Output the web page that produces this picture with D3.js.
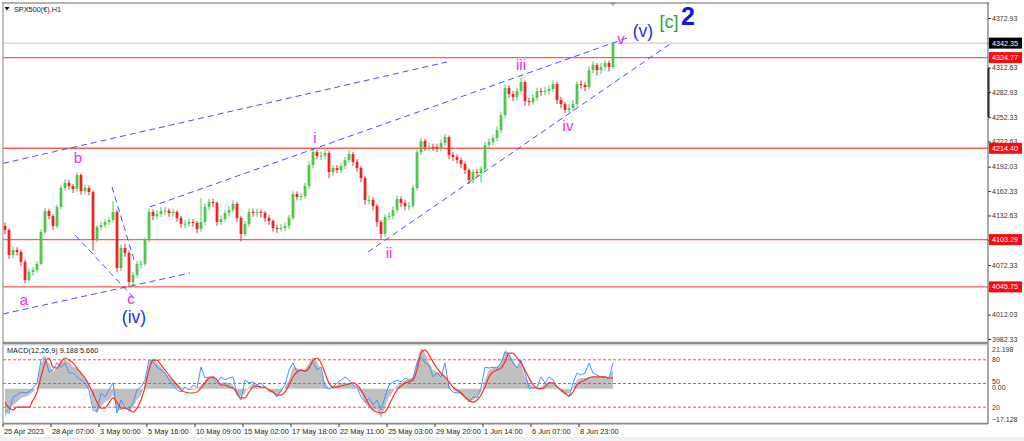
<!DOCTYPE html>
<html><head><meta charset="utf-8">
<script src="https://cdn.jsdelivr.net/npm/d3@7"></script>
<style>
body{margin:0;background:#fff;}
svg{display:block;font-family:"Liberation Sans",Arial,sans-serif;}
</style>
</head><body>
<svg id="chart" width="1024" height="441"></svg>
<script>
// ---------- DATA ----------
const firstOpen = 4120;
const closes = [4115.0,4084.5,4090.6,4088.2,4076.0,4054.1,4063.9,4066.3,4073.6,4112.5,
4138.1,4132.0,4119.8,4143.0,4166.1,4172.2,4168.5,4164.9,4181.9,4162.4,
4166.1,4161.2,4102.8,4118.6,4121.0,4124.7,4127.1,4136.9,4068.7,4093.1,
4087.0,4051.7,4060.2,4073.6,4073.9,4102.8,4136.9,4132.0,4134.4,4138.1,
4138.4,4135.6,4136.9,4129.6,4122.3,4122.6,4124.7,4123.5,4116.2,4124.7,
4143.0,4149.0,4147.8,4124.7,4128.3,4135.6,4139.3,4146.6,4129.6,4110.1,
4122.3,4136.9,4135.6,4136.9,4135.6,4129.6,4125.9,4117.4,4116.2,4117.4,
4119.8,4129.6,4158.7,4155.1,4156.3,4168.5,4194.0,4209.8,4205.0,4205.3,
4208.6,4185.5,4190.4,4187.9,4192.8,4200.1,4207.4,4197.7,4190.4,4178.2,
4151.4,4151.7,4144.1,4124.7,4110.1,4130.8,4132.0,4139.3,4152.7,4147.8,
4144.1,4144.4,4166.1,4209.8,4223.3,4215.9,4216.2,4215.9,4214.7,4220.8,
4228.1,4206.2,4203.8,4200.1,4195.3,4187.9,4175.8,4185.5,4184.3,4189.2,
4218.4,4222.0,4226.9,4236.6,4254.9,4287.7,4280.4,4276.8,4284.1,4295.0,
4271.9,4270.7,4275.6,4284.1,4282.9,4284.1,4286.5,4292.6,4273.1,4268.3,
4261.0,4263.4,4268.3,4292.6,4291.4,4288.9,4309.6,4315.7,4309.6,4313.3,
4318.1,4313.3,4341.3];
const highs = [4124,4117,4095,4094,4091,4079,4067,4070,4077,4116,
4142,4141,4134,4146,4170,4177,4176,4171,4185,4184,
4170,4169,4163,4121,4125,4128,4131,4150,4139,4097,
4098,4090,4064,4077,4078,4106,4141,4140,4139,4143,
4143,4141,4141,4139,4132,4127,4129,4128,4126,4154,
4147,4153,4153,4150,4133,4139,4144,4151,4149,4132,
4126,4141,4141,4141,4140,4138,4133,4128,4121,4122,
4124,4133,4162,4162,4160,4172,4198,4214,4213,4210,
4213,4211,4194,4194,4197,4204,4212,4210,4201,4193,
4181,4157,4155,4147,4127,4134,4137,4144,4157,4156,
4151,4149,4170,4213,4227,4226,4221,4220,4220,4225,
4232,4230,4210,4207,4203,4198,4190,4189,4189,4193,
4222,4226,4231,4241,4259,4292,4291,4284,4288,4300,
4297,4276,4280,4288,4288,4289,4291,4297,4295,4277,
4271,4268,4273,4296,4297,4295,4314,4320,4318,4318,
4322,4321,4343];
const lows = [4110,4080,4081,4084,4071,4050,4052,4060,4063,4072,
4110,4128,4115,4117,4140,4163,4164,4160,4162,4158,
4159,4157,4090,4100,4115,4118,4121,4124,4064,4065,
4082,4046,4048,4057,4068,4071,4100,4127,4128,4131,
4133,4131,4131,4125,4118,4117,4119,4119,4111,4113,
4121,4139,4143,4120,4121,4125,4132,4136,4125,4101,
4107,4119,4131,4131,4130,4125,4121,4113,4111,4113,
4114,4116,4127,4151,4151,4153,4165,4190,4201,4200,
4201,4178,4181,4184,4184,4189,4197,4193,4186,4173,
4146,4146,4139,4119,4104,4107,4127,4128,4136,4143,
4139,4139,4141,4163,4206,4211,4211,4211,4210,4211,
4217,4201,4199,4196,4190,4183,4171,4172,4179,4173,
4186,4214,4218,4223,4233,4251,4276,4272,4273,4281,
4266,4266,4267,4272,4278,4279,4280,4283,4268,4263,
4257,4258,4260,4265,4287,4284,4286,4306,4303,4305,
4309,4308,4311];
const macdMain = [-13.7,-10.3,-7.9,-6.5,-4.5,-4.0,-3.1,-1.6,0.8,12.5,
14.9,12.5,8.1,10.5,13.0,13.9,13.0,10.5,10.0,7.6,
5.2,2.8,-8.9,-11.8,-8.9,-6.5,-5.5,-3.1,-10.3,-10.3,
-7.9,-11.3,-8.9,-5.5,-3.1,2.8,13.0,14.9,12.5,10.5,
8.1,5.7,4.2,2.8,0.8,0.3,-0.6,-0.6,-0.1,1.8,
4.2,5.7,5.7,2.8,2.8,3.3,2.8,1.8,-2.1,-4.0,
-2.1,0.8,2.8,1.8,0.8,0.3,-1.6,-2.1,-3.1,-2.1,
0.8,4.2,10.5,10.0,9.1,9.1,12.5,15.4,13.0,9.1,
2.8,0.3,0.8,1.8,2.8,2.8,2.8,1.8,0.3,-2.1,
-6.9,-9.4,-10.3,-10.3,-14.2,-8.9,-4.0,-1.6,1.8,2.8,
4.2,4.2,5.7,13.9,19.8,17.3,12.5,9.1,8.1,7.6,
5.7,1.8,-0.6,-1.6,-3.1,-4.5,-6.5,-5.5,-4.0,-1.6,
4.2,9.1,10.0,10.5,12.5,18.8,17.3,13.9,10.5,12.5,
5.7,2.8,0.8,0.3,0.8,2.8,3.3,2.8,0.3,-1.6,
-3.1,-2.1,0.8,4.2,5.2,5.2,5.7,5.7,5.7,5.7,
5.7,5.7,9.2];
const macdSignal = [-6.5,-9.4,-10.3,-8.9,-8.9,-8.9,-8.9,-5.5,-1.6,5.7,
12.5,14.9,10.5,10.0,13.0,14.9,13.9,12.5,10.0,7.6,
5.2,1.8,-2.1,-6.5,-9.4,-9.4,-6.9,-4.5,-6.5,-9.4,
-9.4,-10.3,-11.3,-9.4,-5.5,0.8,9.1,13.9,13.9,11.5,
9.1,6.6,4.2,1.8,-0.6,-1.6,-2.1,-2.1,-1.6,0.3,
2.8,5.2,5.7,4.2,1.8,1.8,0.8,0.3,-2.1,-4.5,
-4.5,-1.6,0.8,1.3,0.8,0.8,-0.6,-1.6,-3.1,-3.1,
-1.6,1.8,5.7,8.1,9.1,8.6,10.0,13.9,14.9,12.5,
7.6,2.8,0.8,0.8,1.3,1.8,2.3,2.8,1.8,-0.6,
-4.0,-7.9,-10.3,-11.3,-11.8,-11.3,-7.9,-4.0,-0.6,1.3,
2.8,3.3,4.2,9.1,17.3,18.8,16.4,13.0,10.0,7.6,
5.7,3.3,0.8,-0.6,-2.1,-4.0,-5.5,-6.5,-5.5,-3.1,
0.8,5.7,8.1,9.1,10.0,13.0,17.3,17.3,14.9,12.5,
9.1,5.2,1.8,0.3,-0.1,0.8,2.8,2.8,0.8,-0.6,
-2.1,-3.5,-1.6,1.8,3.3,4.2,5.2,5.7,5.7,5.7,
5.7,5.2,5.2];
const oscLine = [-10.3,-11.8,-4.0,-3.1,-1.6,-2.1,-1.6,0.3,2.8,13.9,
15.4,8.1,9.1,12.5,10.5,12.5,7.6,7.6,5.7,4.2,
2.8,-0.6,-10.3,-11.3,-2.1,-4.0,-0.6,2.8,-11.8,-5.5,
-8.9,-10.3,-6.9,-0.6,0.8,4.2,13.9,13.0,10.5,9.1,
7.6,4.2,1.8,-0.6,-1.6,0.8,-0.6,1.8,0.3,10.5,
5.2,5.7,5.2,2.8,5.7,4.2,5.2,5.7,-3.1,-5.5,
4.2,2.8,3.3,1.8,2.8,0.8,-0.6,-1.6,-4.0,-0.6,
1.8,9.1,12.5,8.1,9.1,8.1,10.5,13.0,9.1,10.5,
0.8,-0.1,0.8,2.8,4.2,5.7,4.2,1.8,0.8,-4.0,
-6.5,-4.5,-7.9,-5.5,-10.3,-4.0,1.8,3.3,4.2,3.3,
5.2,4.2,5.2,12.5,15.4,12.5,11.5,5.7,7.6,5.7,
12.5,0.3,-1.6,-2.1,-1.6,-4.0,-6.5,-4.0,-4.5,0.3,
10.5,10.0,10.5,10.0,12.5,17.8,16.4,12.5,10.0,13.9,
7.6,0.3,0.3,0.8,5.7,2.8,5.7,4.2,0.8,-0.6,
-2.1,-4.0,2.8,7.6,6.6,7.6,12.5,7.6,6.6,5.7,
5.7,5.2,12.5];

const xTickIndex = [-0.5,11.5,23.5,35.5,47.5,59.5,71.5,83.5,95.5,107.5,119.5,131.5,143.5];
const xTickLabels = ["25 Apr 2023","28 Apr 07:00","3 May 00:00","5 May 16:00","10 May 09:00",
  "15 May 02:00","17 May 18:00","22 May 11:00","25 May 03:00","29 May 20:00",
  "1 Jun 14:00","6 Jun 07:00","8 Jun 23:00"];
const priceTicks = [4372.93,4342.63,4312.63,4282.93,4252.33,4222.63,4192.03,4162.33,4132.63,4102.63,4072.33,4042.73,4012.03,3982.33];
const levelPrices = [4324.77,4214.40,4103.29,4045.75];
const bidPrice = 4342.35;
const macdAxisValues = [21.198, 0.00, -17.128];
const oscLevels = [80, 50, 20];
const macdTitle = "MACD(12,26,9) 9.188 5.660";
const symbolTitle = "SPX500(€),H1";

const trendLines = [
  [[-0.5,4196.0],[110.5,4319.4]],
  [[-0.5,4012.8],[46.25,4062.6]],
  [[36.25,4143.0],[155.5,4348.6]],
  [[90.75,4088.2],[166.25,4341.3]],
  [[26.75,4167.3],[32.5,4074.8]],
  [[17.5,4108.9],[32.0,4033.4]]
];
const waveText  = ["a","b","c","(iv)","i","ii","iii","iv","v","(v)","[c]","2"];
const waveIdx   = [4.75,18.25,31.5,32.25,77.5,96,129,140.75,154,159.5,166,170.75];
const wavePrice = [4023.7,4196.5,4024.9,4001.8,4220.8,4080.9,4309.7,4235.4,4341.3,4349.8,4360.8,4364.4];
const waveKind  = ["m","m","m","blue","m","m","m","m","m","blue","green","big"];

// ---------- SCALES ----------
const svg = d3.select("#chart");
const x = d3.scaleLinear().domain([0, 152]).range([5, 613]);
const y = d3.scaleLinear().domain([3982.33, 4372.93]).range([339, 18]);
const ym = d3.scaleLinear().domain([-17.128, 21.198]).range([424, 345]);
const yo = d3.scaleLinear().domain([0, 100]).range([423, 344]);

const PL = 3, PR = 988;

// background
svg.append("rect").attr("x",0).attr("y",0).attr("width",1024).attr("height",441).attr("fill","#fff");
svg.append("rect").attr("x",0).attr("y",437).attr("width",1024).attr("height",4).attr("fill","#f0f0f0");

// ---------- MAIN PANEL ----------
const main = svg.append("g");
main.append("line").attr("x1",PL).attr("x2",PR).attr("y1",y(bidPrice)).attr("y2",y(bidPrice))
  .attr("stroke","#cfcfcf").attr("stroke-width",1.2);
main.selectAll(".lvl").data(levelPrices).join("line")
  .attr("x1",PL).attr("x2",PR).attr("y1",d=>y(d)).attr("y2",d=>y(d))
  .attr("stroke","#ff5c5c").attr("stroke-width",1.4);

// candles
const candles = closes.map((c,i)=>({i, o: i===0?firstOpen:closes[i-1], c, h: highs[i], l: lows[i]}));
const cg = main.append("g");
cg.selectAll("line.w").data(candles).join("line")
  .attr("x1",d=>x(d.i)).attr("x2",d=>x(d.i))
  .attr("y1",d=>y(d.h)).attr("y2",d=>y(d.l))
  .attr("stroke",d=>d.c>=d.o?"#52c852":"#ec2b2b").attr("stroke-width",1);
cg.selectAll("rect.b").data(candles).join("rect")
  .attr("x",d=>x(d.i)-1.4).attr("width",2.8)
  .attr("y",d=>y(Math.max(d.o,d.c)))
  .attr("height",d=>Math.max(1,Math.abs(y(d.o)-y(d.c))))
  .attr("fill",d=>d.c>=d.o?"#4cc94c":"#ee2424");

// trend lines
main.selectAll(".tl").data(trendLines).join("line")
  .attr("x1",d=>x(d[0][0])).attr("y1",d=>y(d[0][1]))
  .attr("x2",d=>x(d[1][0])).attr("y2",d=>y(d[1][1]))
  .attr("stroke","#4a4aff").attr("stroke-width",1).attr("stroke-dasharray","6,4");

// wave labels
const kindStyle = {
  m:{fill:"#f028f0",size:15,weight:"normal"},
  blue:{fill:"#2a2aff",size:17.5,weight:"normal"},
  green:{fill:"#31a031",size:18,weight:"normal"},
  big:{fill:"#1414e6",size:25,weight:"bold"}
};
main.selectAll(".wl").data(waveText).join("text")
  .attr("x",(d,i)=>x(waveIdx[i])).attr("y",(d,i)=>y(wavePrice[i]))
  .attr("text-anchor","middle")
  .attr("fill",(d,i)=>kindStyle[waveKind[i]].fill)
  .attr("font-size",(d,i)=>kindStyle[waveKind[i]].size)
  .attr("font-weight",(d,i)=>kindStyle[waveKind[i]].weight)
  .attr("font-family","'Liberation Sans',Arial,sans-serif")
  .text(d=>d);

// title
svg.append("path").attr("d","M4.5,7 L9.5,7 L7,10.5 Z").attr("fill","#111");
svg.append("text").attr("x",14).attr("y",12).attr("font-size",7.3).attr("fill","#222").text(symbolTitle);
// shift marker
svg.append("path").attr("d",`M${x(152)-3},2 L${x(152)+3},2 L${x(152)},6 Z`).attr("fill","#9a9a9a");

// price axis
const ax = d3.axisRight(y).tickValues(priceTicks).tickFormat(d3.format(".2f")).tickSize(3).tickPadding(1);
const axg = svg.append("g").attr("transform",`translate(${PR},0)`).call(ax);
axg.select(".domain").remove();
axg.selectAll("line").attr("stroke","#333");
axg.selectAll("text").attr("font-size",7).attr("fill","#333").attr("font-family","'Liberation Sans',Arial,sans-serif");

// scroll marker on axis
svg.append("rect").attr("x",PR-0.5).attr("y",68).attr("width",2).attr("height",49).attr("fill","#111");

// price boxes
function priceBox(p, bg){
  const g = svg.append("g");
  g.append("rect").attr("x",PR+1).attr("y",y(p)-5.5).attr("width",33).attr("height",11).attr("fill",bg);
  g.append("text").attr("x",PR+4).attr("y",y(p)+2.6).attr("font-size",7.2).attr("fill","#fff")
    .text(d3.format(".2f")(p));
}
priceBox(bidPrice,"#000");
levelPrices.forEach(p=>priceBox(p,"#ff0a0a"));

// ---------- MACD PANEL ----------
const mg = svg.append("g");
mg.append("path").datum(macdMain)
  .attr("d", d3.area().x((d,i)=>x(i)).y0(ym(0)).y1(d=>ym(d)))
  .attr("fill","#c0c0c0");
mg.selectAll(".ol").data(oscLevels).join("line")
  .attr("x1",PL).attr("x2",PR).attr("y1",d=>yo(d)).attr("y2",d=>yo(d))
  .attr("stroke","#ff4a4a").attr("stroke-width",1).attr("stroke-dasharray","3,2");
mg.append("path").datum(oscLine)
  .attr("d", d3.line().x((d,i)=>x(i)).y(d=>ym(d)))
  .attr("fill","none").attr("stroke","#3c96ff").attr("stroke-width",1);
mg.append("path").datum(macdSignal)
  .attr("d", d3.line().x((d,i)=>x(i)).y(d=>ym(d)).curve(d3.curveMonotoneX))
  .attr("fill","none").attr("stroke","#ff2a2a").attr("stroke-width",1.2);
svg.append("text").attr("x",7).attr("y",352.5).attr("font-size",7.3).attr("fill","#222").text(macdTitle);

// macd axis labels
const mlab = svg.append("g").attr("font-size",7).attr("fill","#333");
macdAxisValues.forEach(v=>{
  let yy = Math.min(Math.max(ym(v), 349), 419);
  if (v===0) yy = 387;
  mlab.append("text").attr("x",PR+4).attr("y",yy+2.5).text(v===0 ? "0.00" : d3.format(".3f")(v));
});
oscLevels.forEach(v=>{
  svg.append("text").attr("x",PR+4).attr("y",yo(v)+(v===50?0:2.5)).attr("font-size",7).attr("fill","#333").text(v);
});

// ---------- FRAME ----------
const fr = svg.append("g").attr("fill","none");
fr.append("line").attr("x1",2).attr("x2",PR+1).attr("y1",3).attr("y2",3).attr("stroke","#9a9a9a").attr("stroke-width",1.5);
fr.append("line").attr("x1",3).attr("x2",3).attr("y1",3).attr("y2",424).attr("stroke","#9a9a9a").attr("stroke-width",1.2);
fr.append("line").attr("x1",PR).attr("x2",PR).attr("y1",3).attr("y2",424).attr("stroke","#555").attr("stroke-width",1);
fr.append("rect").attr("x",3).attr("y",341.8).attr("width",PR-3).attr("height",2.6).attr("fill","#8e8e8e").attr("stroke","none");
fr.append("line").attr("x1",3).attr("x2",PR).attr("y1",345).attr("y2",345).attr("stroke","#cfcfcf").attr("stroke-width",1);
fr.append("line").attr("x1",3).attr("x2",PR).attr("y1",423.6).attr("y2",423.6).attr("stroke","#8a8a8a").attr("stroke-width",1.6);

// x axis
const xg = svg.append("g");
xTickIndex.forEach((t,k)=>{
  const xx = x(t);
  xg.append("line").attr("x1",xx).attr("x2",xx).attr("y1",424).attr("y2",427).attr("stroke","#333");
  xg.append("text").attr("x",xx+1).attr("y",434).attr("font-size",7.4)
    .attr("fill","#222").text(xTickLabels[k]);
});
</script>
</body></html>
